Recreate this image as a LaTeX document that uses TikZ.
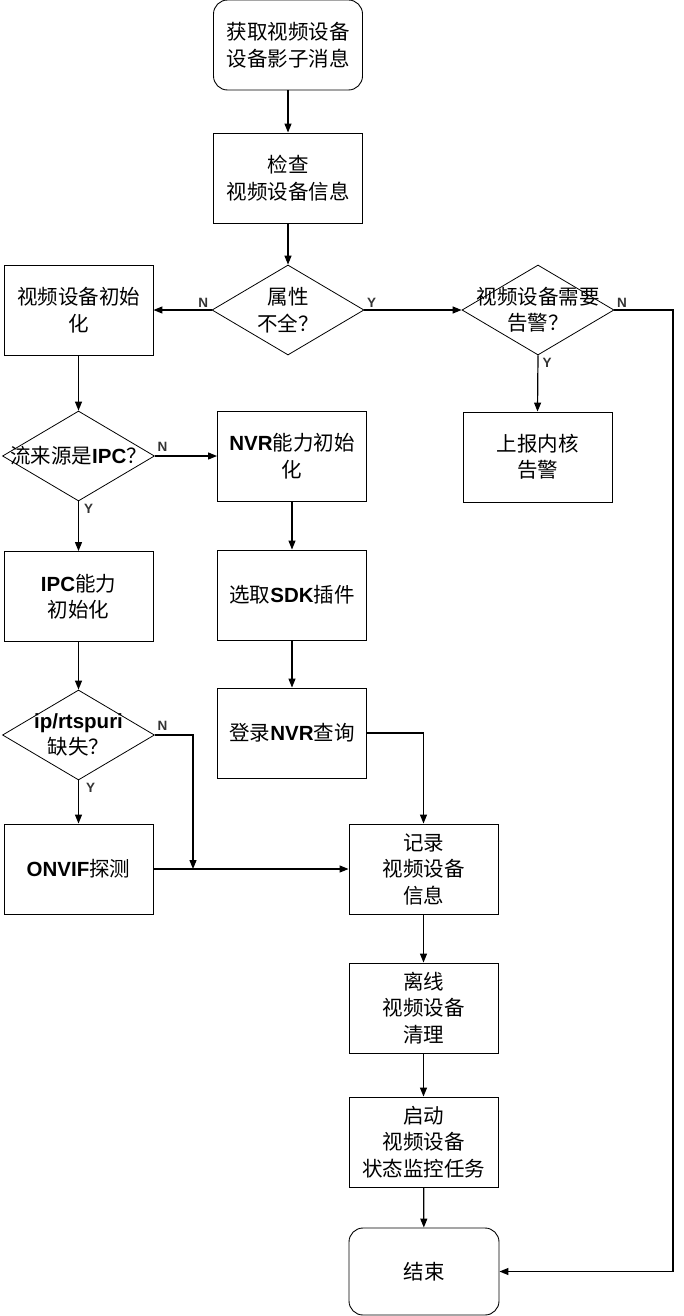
\documentclass[tikz,border=0pt]{standalone}
\usepackage{fontspec}
\setmainfont{Noto Sans CJK SC}
\newfontfamily\latfam{Liberation Sans}
\newcommand{\LatB}[1]{{\latfam\bfseries #1}}
\usetikzlibrary{shapes.geometric,arrows.meta}
\tikzset{
  every node/.style={font=\fontsize{20.5pt}{26.5pt}\selectfont},
  box/.style={draw, line width=0.9pt, minimum width=149pt, minimum height=90pt, align=center, inner sep=0pt},
  rbox/.style={box, rounded corners=14pt},
  dia/.style={draw, diamond, line width=0.8pt, minimum width=152pt, minimum height=90pt, inner sep=0pt},
  dtext/.style={align=center, inner sep=0pt},
  arr/.style={draw, line width=1.2pt, -{Triangle[length=9pt,width=7pt]}},
  lbl/.style={font=\latfam\bfseries\fontsize{13.5pt}{15pt}\selectfont, text=black!80, inner sep=1pt}
}
\begin{document}
\begin{tikzpicture}[x=1pt,y=-1pt]
\useasboundingbox (0,0) rectangle (683,1316);
% nodes
\node[rbox] (start) at (288,45) {获取视频设备\\设备影子消息};
\node[box] (check) at (288,178) {检查\\视频设备信息};
\node[dia] (attr) at (288,310) {};
\node[dtext] (attrt) at (288,310) {属性\\不全？};
\node[box] (vinit) at (78.5,310) {视频设备初始\\化};
\node[dia] (alarm) at (538,310) {};
\node[dtext] (alarmt) at (538,310) {视频设备需要\\告警？};
\node[box] (report) at (537.5,457) {上报内核\\告警};
\node[dia] (src) at (78.5,456) {};
\node[dtext] (srct) at (78.5,456) {流来源是\LatB{IPC}？};
\node[box] (nvr) at (292,456) {\LatB{NVR}能力初始\\化};
\node[box] (ipc) at (78.5,596.5) {\LatB{IPC}能力\\初始化};
\node[box] (sdk) at (292,595) {选取\LatB{SDK}插件};
\node[dia] (ip) at (78.5,735) {};
\node[dtext] (ipt) at (78.5,735) {\LatB{ip/rtspuri}\\缺失？};
\node[box] (login) at (292,733) {登录\LatB{NVR}查询};
\node[box] (onvif) at (78.5,869) {\LatB{ONVIF}探测};
\node[box] (rec) at (423.5,869) {记录\\视频设备\\信息};
\node[box] (clean) at (423.5,1008) {离线\\视频设备\\清理};
\node[box] (mon) at (423.5,1142) {启动\\视频设备\\状态监控任务};
\node[rbox, minimum width=150pt, minimum height=87pt] (end) at (424,1271.5) {结束};
\coordinate (jn) at (193,869);
\coordinate (rc) at (673,310);
% connectors
\draw[arr] (start) -- (check);
\draw[arr] (check) -- (attr);
\draw[arr] (attr.west) -- node[lbl, pos=0, anchor=south east, xshift=-2pt, yshift=1pt] {N} (vinit.east);
\draw[arr] (attr.east) -- node[lbl, pos=0, anchor=south west, xshift=1pt, yshift=1pt] {Y} (alarm.west);
\draw[arr] (alarm.south) -- node[lbl, pos=0, anchor=north west, xshift=3pt, yshift=-1pt] {Y} (report.north);
\draw[arr] (alarm.east) -- node[lbl, pos=0, anchor=south west, xshift=1pt, yshift=1pt] {N} (rc) |- (end.east);
\draw[arr] (vinit) -- (src);
\draw[arr] (src.east) -- node[lbl, pos=0, anchor=south west, xshift=1pt, yshift=3pt] {N} (nvr.west);
\draw[arr] (src.south) -- node[lbl, pos=0, anchor=north west, xshift=4pt, yshift=-1pt] {Y} (ipc.north);
\draw[arr] (nvr) -- (sdk);
\draw[arr] (sdk) -- (login);
\draw[arr] (ipc) -- (ip);
\draw[arr] (ip.east) -- node[lbl, pos=0, anchor=south west, xshift=1pt, yshift=3pt] {N} (190,735) -| (jn);
\draw[arr] (ip.south) -- node[lbl, pos=0, anchor=north west, xshift=6pt, yshift=-1pt] {Y} (onvif.north);
\draw[arr] (onvif.east) -- (rec.west);
\draw[arr] (login.east) -| (rec.north);
\draw[arr] (rec) -- (clean);
\draw[arr] (clean) -- (mon);
\draw[arr] (mon) -- (end);
\end{tikzpicture}
\end{document}
